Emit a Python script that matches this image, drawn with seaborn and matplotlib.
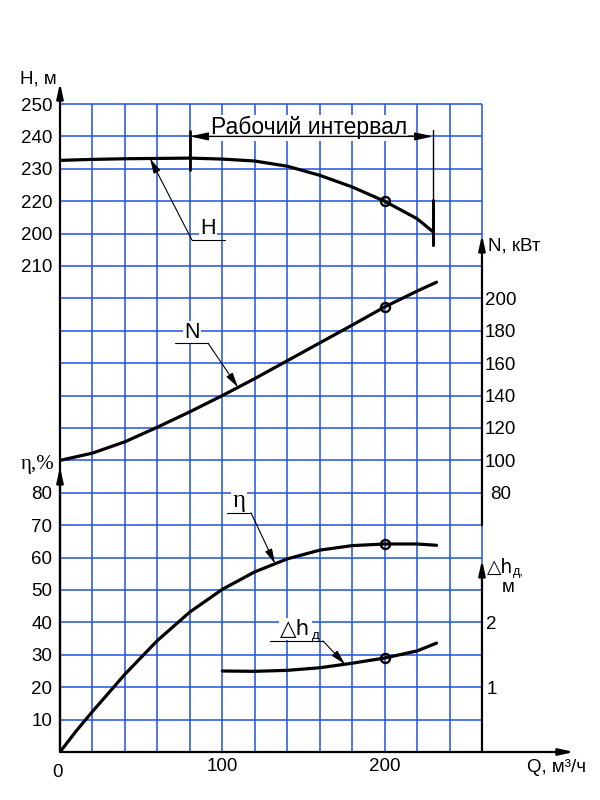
import numpy as np
import seaborn as sns
import matplotlib.pyplot as plt

# pump curves (Q in m3/h)
q_h = [0, 20, 40, 60, 80, 100, 120, 140, 160, 180, 200, 220, 230]
h_val = [232.6, 232.9, 233.1, 233.2, 233.3, 233.0, 232.4, 230.8, 228.0, 224.4, 220.0, 214.6, 210.5]

q_n = [0, 20, 40, 60, 80, 100, 120, 140, 160, 180, 200, 220, 232]
n_val = [100, 104.5, 111.5, 120.5, 130, 140, 150.5, 161.5, 172.5, 183.5, 194.7, 204.5, 210]

q_eta = [0, 10, 20, 40, 60, 80, 100, 120, 140, 160, 180, 200, 220, 232]
eta_val = [0, 6.5, 12.5, 24, 34.4, 43.2, 50.2, 55.6, 59.6, 62.3, 63.7, 64.2, 64.2, 63.8]

q_dh = [100, 120, 140, 160, 180, 200, 220, 232]
dh_val = [1.25, 1.245, 1.26, 1.30, 1.37, 1.45, 1.56, 1.68]

q_rated = 200
q_work = [80, 230]

h_ticks = [250, 240, 230, 220, 210, 200]
h_labels = ['250', '240', '230', '220', '200', '210']
n_ticks = [80, 100, 120, 140, 160, 180, 200]
eta_ticks = [10, 20, 30, 40, 50, 60, 70, 80]
dh_ticks = [1, 2]
q_ticks = [100, 200]

grid_c = '#1f52e0'

sns.set_theme(style='white')
plt.rcParams['font.family'] = ['Liberation Sans', 'DejaVu Sans']
plt.rcParams['text.color'] = 'black'
plt.rcParams['xtick.color'] = 'black'
plt.rcParams['ytick.color'] = 'black'
serif = ['Liberation Serif', 'DejaVu Serif']
fs = 13.5

fig = plt.figure(figsize=(6, 8), dpi=100)
cx, cy = 32.46, 32.4  # pixels per grid cell
x0, y0 = 60 / 600, 48 / 800
hgt = 21 * cy / 800
ax = fig.add_axes([x0, y0, 16 * cx / 600, hgt])
ax.set_xlim(0, 320)
ax.set_ylim(0, 210)          # main axis = efficiency, 10 % per cell

ax_h = ax.twinx()
ax_h.set_ylim(50, 260)       # 10 m per cell

# right-hand scales end at Q = 260, so they get their own narrower axes
ax_n = fig.add_axes([x0, y0, 13 * cx / 600, hgt])
ax_n.set_xlim(0, 260)
ax_n.set_ylim(-80, 340)      # 20 kW per cell
ax_d = fig.add_axes([x0, y0, 13 * cx / 600, hgt])
ax_d.set_xlim(0, 260)
ax_d.set_ylim(0, 10.5)       # 0.5 m per cell
for a in (ax_n, ax_d):
    a.patch.set_visible(False)
    a.set_xticks([])
    a.yaxis.tick_right()
for a in (ax, ax_h, ax_n, ax_d):
    for s in a.spines.values():
        s.set_visible(False)

# grid
ax.hlines(np.arange(10, 201, 10), 0, 260, colors=grid_c, lw=1.1, zorder=1)
ax.vlines(np.arange(20, 261, 20), 0, 200, colors=grid_c, lw=1.1, zorder=1)

# ticks
ax.set_xticks(q_ticks)
ax.set_yticks(eta_ticks)
ax.tick_params(length=0, labelsize=fs)
ax.tick_params(axis='x', pad=4)
ax.tick_params(axis='y', pad=5.5)
ax_h.yaxis.tick_left()
ax_h.set_yticks(h_ticks, h_labels)
ax_h.tick_params(axis='y', length=0, labelsize=fs, pad=5.5)
ax_n.set_yticks(n_ticks)
ax_n.tick_params(axis='y', length=0, labelsize=fs, pad=13.5)
plt.setp(ax_n.get_yticklabels(), ha='center')
ax_d.set_yticks(dh_ticks)
ax_d.tick_params(axis='y', length=0, labelsize=fs, pad=3)
ax.text(-1.8, -6.2, '0', ha='center', va='center', fontsize=fs)

# curves
for a, q, v in ((ax_h, q_h, h_val), (ax_n, q_n, n_val),
                (ax, q_eta, eta_val), (ax_d, q_dh, dh_val)):
    sns.lineplot(x=q, y=v, ax=a, color='black', lw=2.3, errorbar=None, zorder=4)
    a.plot(q_rated, v[q.index(q_rated)], marker='o', ms=6.5, mfc='none',
           mec='black', mew=1.7, ls='none', zorder=5)
ax.set_xlim(0, 320)
for a in (ax_n, ax_d):
    a.set_xlim(0, 260)


def arrow(start, end, lw=1.6, scale=20, hl=0.45, hw=0.1, style='-|>',
          xycoords='data', z=4):
    ax.annotate('', xy=end, xytext=start, xycoords=xycoords, textcoords='data',
                annotation_clip=False, zorder=z,
                arrowprops=dict(arrowstyle=f'{style},head_length={hl},head_width={hw}',
                                lw=lw, color='black', shrinkA=0, shrinkB=0,
                                mutation_scale=scale))


# axis lines with arrows
arrow((0, 0), (0, 206.5))
arrow((0, 0), (0, 88))
arrow((0, 0), (316.7, 0))
arrow((260, 0), (260, 59.3))
arrow((260, 70), (260, 159.6))

# axis titles
ax.text(-1.8, 207.6, 'H, м', ha='right', va='center', fontsize=fs)
ax.text(-3.1, 88.6, 'η,%', ha='right', va='center', fontsize=15, family=serif)
ax.text(263.7, 156.3, 'N, кВт', ha='left', va='center', fontsize=fs)
ax.text(263.1, 57.1, '△h', ha='left', va='center', fontsize=fs,
        family=['DejaVu Sans'])
ax.text(279.3, 55.6, 'д,', ha='left', va='center', fontsize=9)
ax.text(276.0, 50.9, 'м', ha='center', va='center', fontsize=fs)
ax.text(287.7, -4.9, 'Q, м³/ч', ha='left', va='center', fontsize=fs)

# working interval
ax.plot([q_work[0]] * 2, [179.6, 191.7], color='black', lw=2, zorder=6)
ax.plot([q_work[1]] * 2, [156.5, 192.0], color='black', lw=1, zorder=6)
ax.plot([q_work[1]] * 2, [156.5, 170.4], color='black', lw=2.2, zorder=6)
arrow((q_work[0], 190), (q_work[1], 190), lw=1, hl=0.55, hw=0.12,
      style='<|-|>', z=6)
ax.text(153.4, 190.7, 'Рабочий интервал', ha='center', va='baseline',
        fontsize=16.5, bbox=dict(fc='white', ec='none', pad=1), zorder=5)


# curve callouts
def callout(label, tx, ty, ux0, ux1, uy, start_x, tip_q, q, v, tip_ax,
            family=None, size=15.5):
    ax.text(tx, ty, label, ha='center', va='center', fontsize=size,
            family=family, bbox=dict(fc='white', ec='none', pad=1), zorder=5)
    ax.plot([ux0, ux1], [uy, uy], color='black', lw=0.8, zorder=5)
    arrow((start_x, uy), (tip_q, np.interp(tip_q, q, v)), lw=0.8, scale=15,
          hl=0.6, hw=0.15, xycoords=tip_ax.transData, z=5)


callout('H', 91.2, 161.6, 81.3, 101.7, 158.0, 81.3, 55.5, q_h, h_val, ax_h)
callout('N', 81.3, 129.5, 70.9, 91.2, 126.2, 91.2, 109.7, q_n, n_val, ax_n)
callout('η', 110.3, 77.5, 102.9, 117.7, 73.8, 117.7, 132.5, q_eta, eta_val, ax,
        family=serif, size=18)
callout('△h', 145.0, 38.0, 129.4, 162.0, 34.3, 162.0, 175.6, q_dh, dh_val, ax_d,
        family=['DejaVu Sans'])
ax.text(155.0, 35.9, 'д', ha='left', va='center', fontsize=9.5, zorder=6)

fig.savefig('out.png', dpi=100, facecolor='white')
